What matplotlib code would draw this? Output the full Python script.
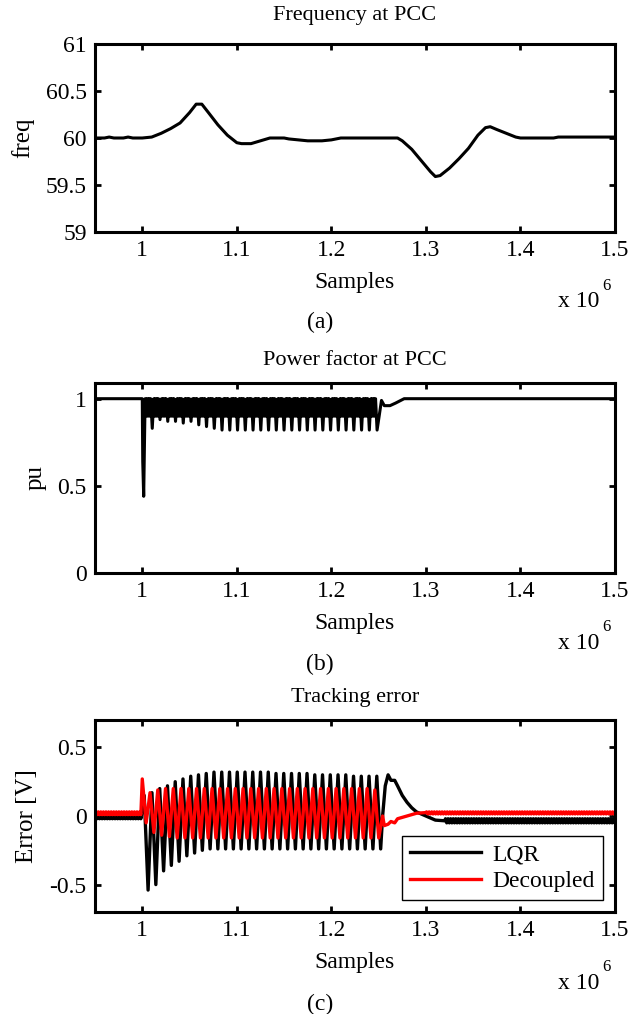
import numpy as np
import matplotlib
matplotlib.use("Agg")
import matplotlib.pyplot as plt

plt.rcParams['font.family'] = ['Liberation Serif', 'DejaVu Serif']
plt.rcParams['font.size'] = 17

# ---- data (x in units of 1e6 samples) ----
freq_x = [0.95, 0.96, 0.965, 0.97, 0.98, 0.985, 0.99, 1.0, 1.01, 1.02, 1.03, 1.04,
          1.05, 1.057, 1.063, 1.07, 1.08, 1.09, 1.1, 1.105, 1.115, 1.125, 1.135,
          1.15, 1.155, 1.165, 1.175, 1.19, 1.2, 1.21, 1.27, 1.275, 1.285, 1.295,
          1.305, 1.31, 1.315, 1.325, 1.335, 1.345, 1.355, 1.363, 1.368, 1.375,
          1.385, 1.395, 1.4, 1.435, 1.44, 1.5]
freq_y = [60.0, 60.0, 60.01, 60.0, 60.0, 60.01, 60.0, 60.0, 60.01, 60.05, 60.1, 60.16,
          60.27, 60.36, 60.36, 60.27, 60.14, 60.03, 59.95, 59.94, 59.94, 59.97, 60.0,
          60.0, 59.99, 59.98, 59.97, 59.97, 59.98, 60.0, 60.0, 59.97, 59.88, 59.76,
          59.64, 59.59, 59.6, 59.68, 59.78, 59.89, 60.03, 60.11, 60.12, 60.09,
          60.05, 60.01, 60.0, 60.0, 60.01, 60.01]

# oscillation period and start of the disturbed interval
osc_period = 0.0082
osc_start = 1.0

# power factor
pf_pre_x = [0.95, 1.0, 1.0005, 1.0015, 1.003]
pf_pre_y = [1.0, 1.0, 0.64, 0.44, 1.0]
pf_band_low = 0.9          # fast ripple floor inside each cycle
pf_troughs = [0.83, 0.88, 0.87, 0.87, 0.86, 0.87, 0.85, 0.84, 0.83, 0.82,
              0.82, 0.82, 0.82, 0.82, 0.82, 0.82, 0.82, 0.82, 0.82, 0.82,
              0.82, 0.82, 0.82, 0.82, 0.82, 0.82, 0.82, 0.82, 0.82, 0.82]
pf_post_x = [1.253, 1.256, 1.262, 1.268, 1.277, 1.5]
pf_post_y = [0.99, 0.96, 0.96, 0.975, 1.0, 1.0]

# tracking error, LQR
lqr_max = [0.15, 0.17, 0.2, 0.22, 0.25, 0.27, 0.29, 0.3, 0.31, 0.32, 0.32, 0.32,
           0.32, 0.32, 0.32, 0.32, 0.32, 0.31, 0.31, 0.31, 0.31, 0.31, 0.3, 0.3,
           0.3, 0.3, 0.3, 0.29, 0.29, 0.29, 0.29]
lqr_min = [-0.54, -0.5, -0.4, -0.36, -0.33, -0.29, -0.27, -0.25, -0.24, -0.24,
           -0.24, -0.24, -0.24, -0.24, -0.24, -0.24, -0.24, -0.24, -0.24, -0.24,
           -0.24, -0.24, -0.24, -0.24, -0.24, -0.24, -0.24, -0.24, -0.24, -0.24, -0.24]
lqr_rec_x = [1.257, 1.26, 1.263, 1.267, 1.27, 1.275, 1.28, 1.285, 1.29, 1.3, 1.31, 1.32]
lqr_rec_y = [0.22, 0.3, 0.26, 0.26, 0.22, 0.15, 0.1, 0.06, 0.03, 0.0, -0.03, -0.035]
lqr_pre_band = (0.02, -0.02)
lqr_post_band = (-0.02, -0.05)

# tracking error, Decoupled
dec_max = [0.27, 0.17, 0.19, 0.2, 0.2, 0.2, 0.2, 0.2, 0.2, 0.2, 0.2, 0.2, 0.2,
           0.2, 0.2, 0.2, 0.2, 0.2, 0.2, 0.2, 0.2, 0.2, 0.2, 0.2, 0.2, 0.2, 0.2,
           0.2, 0.2, 0.2, 0.19]
dec_min = [-0.05, -0.12, -0.14, -0.15, -0.16, -0.16, -0.16, -0.16, -0.16, -0.16,
           -0.16, -0.16, -0.16, -0.16, -0.16, -0.16, -0.16, -0.16, -0.16, -0.16,
           -0.16, -0.16, -0.16, -0.16, -0.16, -0.16, -0.16, -0.16, -0.16, -0.16, -0.16]
dec_rec_x = [1.256, 1.26, 1.263, 1.267, 1.27, 1.275, 1.28, 1.29, 1.3]
dec_rec_y = [-0.07, -0.06, -0.04, -0.05, -0.02, -0.01, 0.0, 0.02, 0.025]
dec_pre_band = (0.03, 0.01)
dec_post_band = (0.03, 0.015)


def cycles(t0, highs, lows, phase=0.25, period=osc_period):
    xs, ys = [], []
    for k, (hi, lo) in enumerate(zip(highs, lows)):
        c = t0 + k * period
        xs += [c + phase * period, c + (phase + 0.5) * period]
        ys += [hi, lo]
    return xs, ys


def band(t0, t1, hi, lo):
    # fine noise band: drawn at a third of the oscillation period
    p = osc_period / 3
    n = int(round((t1 - t0) / p))
    return cycles(t0, [hi] * n, [lo] * n, period=p)


def pf_cycles(t0, troughs):
    xs, ys = [], []
    frac = [0.0, 0.1, 0.2, 0.3, 0.4, 0.5, 0.6, 0.8]
    for k, tr in enumerate(troughs):
        c = t0 + k * osc_period
        vals = [1.0, pf_band_low, 1.0, pf_band_low, 1.0, pf_band_low, 1.0, tr]
        xs += [c + f * osc_period for f in frac]
        ys += vals
    return xs, ys


def style(ax, yticks, ylim, ylabel, title, tag, title_pad=13):
    ax.set_xlim(0.95, 1.5)
    ax.set_ylim(*ylim)
    ax.set_xticks([1, 1.1, 1.2, 1.3, 1.4, 1.5])
    ax.set_xticklabels(['1', '1.1', '1.2', '1.3', '1.4', '1.5'])
    ax.set_yticks(yticks)
    ax.set_yticklabels([('%g' % v) for v in yticks])
    ax.tick_params(direction='in', length=4, width=2, top=True, right=True,
                   labelsize=17, pad=6)
    for s in ax.spines.values():
        s.set_linewidth(2.2)
    ax.set_ylabel(ylabel, fontsize=18, labelpad=8)
    ax.set_xlabel('Samples', fontsize=17, labelpad=8)
    ax.set_title(title, fontsize=16, pad=title_pad)
    ax.text(0.97, -0.37, 'x 10', transform=ax.transAxes, ha='right', va='center', fontsize=17)
    ax.text(0.975, -0.285, '6', transform=ax.transAxes, ha='left', va='center', fontsize=12)
    ax.text(0.433, -0.48, tag, transform=ax.transAxes, ha='center', va='center', fontsize=17)


fig = plt.figure(figsize=(6.39, 10.14), dpi=100)
left, width = 95 / 639, 520 / 639
ax1 = fig.add_axes([left, 1 - 232 / 1014, width, 188 / 1014])
ax2 = fig.add_axes([left, 1 - 573 / 1014, width, 190 / 1014])
ax3 = fig.add_axes([left, 1 - 912 / 1014, width, 192 / 1014])

# (a)
ax1.plot(freq_x, freq_y, color='k', lw=2.2)
style(ax1, [59, 59.5, 60, 60.5, 61], (59, 61), 'freq', 'Frequency at PCC', '(a)', title_pad=17)

# (b)
cx, cy = pf_cycles(1.004, pf_troughs)
pf_x = pf_pre_x + cx + pf_post_x
pf_y = pf_pre_y + cy + pf_post_y
ax2.plot(pf_x, pf_y, color='k', lw=2.2)
style(ax2, [0, 0.5, 1], (0, 1.09), 'pu', 'Power factor at PCC', '(b)')

# (c)
n_osc = len(lqr_max)
osc_end = osc_start + n_osc * osc_period
px, py = band(0.95, osc_start, *lqr_pre_band)
ox, oy = cycles(osc_start, lqr_max, lqr_min, phase=0.25)
qx, qy = band(1.32, 1.5, *lqr_post_band)
lqr_x = [0.95] + px + ox + [osc_end] + lqr_rec_x + qx + [1.5]
lqr_y = [0.0] + py + oy + [0.0] + lqr_rec_y + qy + [-0.035]
ax3.plot(lqr_x, lqr_y, color='k', lw=2.4, label='LQR')

px, py = band(0.95, osc_start, *dec_pre_band)
ox, oy = cycles(osc_start, dec_max, dec_min, phase=0.0)
qx, qy = band(1.3, 1.5, *dec_post_band)
dec_x = [0.95] + px + ox + [osc_end] + dec_rec_x + qx + [1.5]
dec_y = [0.02] + py + oy + [0.0] + dec_rec_y + qy + [0.02]
ax3.plot(dec_x, dec_y, color='#ff0000', lw=2.4, label='Decoupled')
style(ax3, [-0.5, 0, 0.5], (-0.7, 0.7), 'Error [V]', 'Tracking error', '(c)')
leg = ax3.legend(loc='lower right', fontsize=17, handlelength=3.0, fancybox=False,
                 framealpha=1, edgecolor='k', borderaxespad=0.5, handletextpad=0.5,
                 labelspacing=0.2, borderpad=0.35)
leg.get_frame().set_linewidth(1.0)

fig.savefig('out.png', dpi=100)
